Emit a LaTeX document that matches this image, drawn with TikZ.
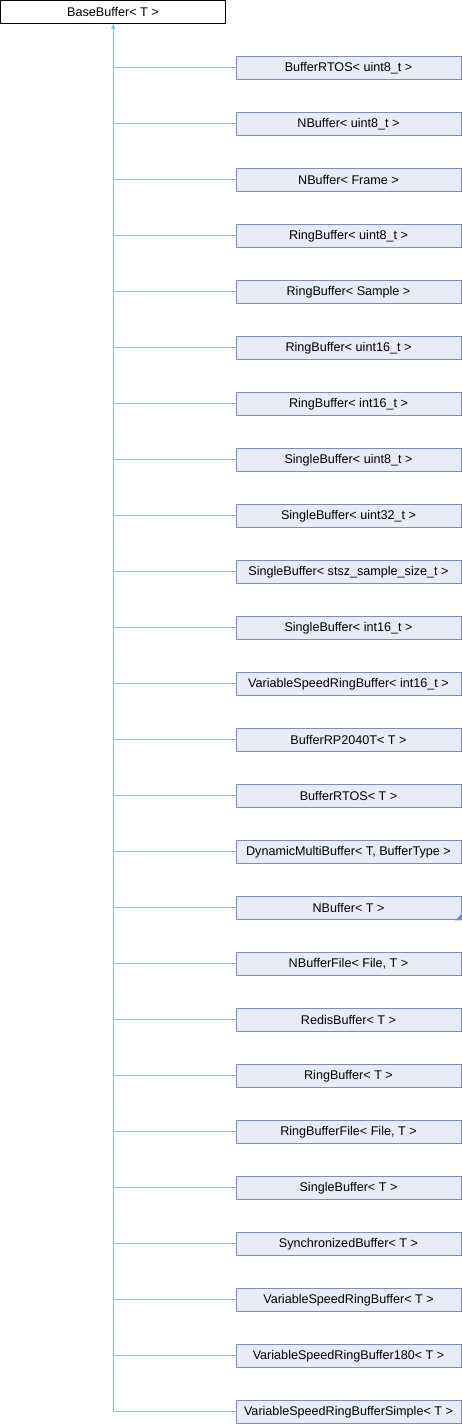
\documentclass[tikz,border=0pt]{standalone}
\usepackage{fontspec}
\setmainfont{Liberation Sans}
\usetikzlibrary{arrows.meta}
\definecolor{edgec}{HTML}{86C3EA}
\definecolor{boxfill}{HTML}{E8ECF6}
\definecolor{boxdraw}{HTML}{7A8CC7}
\begin{document}
\begin{tikzpicture}[x=1pt,y=-1pt,
  basebox/.style={draw=black,fill=white,line width=1pt,minimum width=225pt,minimum height=23pt,inner sep=0pt,font=\fontsize{12.6}{14}\selectfont},
  childbox/.style={draw=boxdraw,fill=boxfill,line width=1pt,minimum width=225pt,minimum height=23pt,inner sep=0pt,font=\fontsize{12.6}{14}\selectfont},
  edge/.style={draw=edgec,line width=1.1pt}]
\useasboundingbox (0,0) rectangle (462,1424);
\node[basebox] (base) at (113,11.8) {BaseBuffer< T >};
\foreach \i/\t in {1/{BufferRTOS< uint8\_t >},2/{NBuffer< uint8\_t >},3/{NBuffer< Frame >},4/{RingBuffer< uint8\_t >},5/{RingBuffer< Sample >},6/{RingBuffer< uint16\_t >},7/{RingBuffer< int16\_t >},8/{SingleBuffer< uint8\_t >},9/{SingleBuffer< uint32\_t >},10/{SingleBuffer< stsz\_sample\_size\_t >},11/{SingleBuffer< int16\_t >},12/{VariableSpeedRingBuffer< int16\_t >},13/{BufferRP2040T< T >},14/{BufferRTOS< T >},15/{DynamicMultiBuffer< T, BufferType >},16/{NBuffer< T >},17/{NBufferFile< File, T >},18/{RedisBuffer< T >},19/{RingBuffer< T >},20/{RingBufferFile< File, T >},21/{SingleBuffer< T >},22/{SynchronizedBuffer< T >},23/{VariableSpeedRingBuffer< T >},24/{VariableSpeedRingBuffer180< T >},25/{VariableSpeedRingBufferSimple< T >}}{
  \node[childbox] (c\i) at (348.5,{67.8+56*(\i-1)}) {\t};
  \coordinate (j\i) at (113.3,{67.8+56*(\i-1)});
  \draw[edge] (j\i) -- (c\i.west);
}
\fill[boxdraw] ([xshift=-0.5pt,yshift=-0.5pt]c16.south east) -- ++(0,-6) -- ++(-6,6) -- cycle;
\draw[edge,-{Triangle[length=5pt,width=4.5pt]}] (j25) -- (113.3,24);
\end{tikzpicture}
\end{document}
